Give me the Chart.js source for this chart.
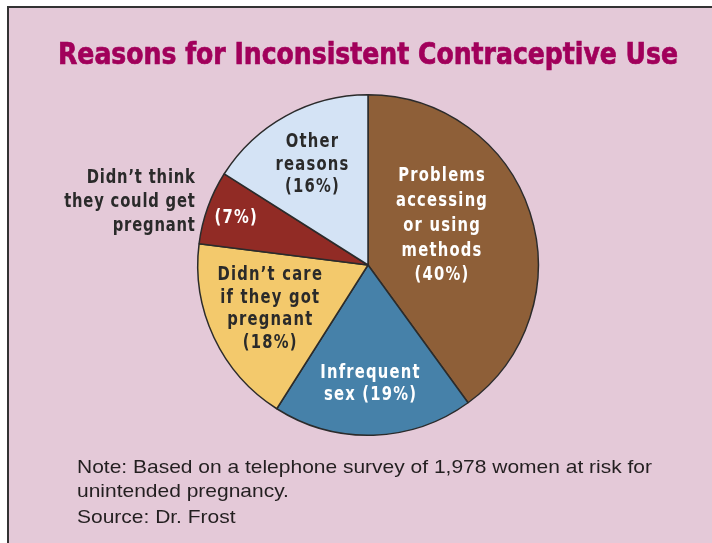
<!DOCTYPE html>
<html>
<head>
<meta charset="utf-8">
<script src="https://cdn.jsdelivr.net/npm/chart.js@4/dist/chart.umd.min.js"></script>
<style>
body{margin:0;background:#fff;width:712px;height:543px;overflow:hidden;position:relative;font-family:"Liberation Sans",Arial,sans-serif}
#frame{position:absolute;left:7px;top:6px;width:720px;height:560px;background:#e4c9d8;border:2px solid #333}
#chartBox{position:absolute;left:0;top:0;width:712px;height:543px}
.txt{position:absolute;white-space:nowrap;transform-origin:0 0}
#title{left:58px;top:38px;font:bold 31px/31px "DejaVu Sans Condensed",sans-serif;color:#a1005b;-webkit-text-stroke:0.7px #a1005b}
.note{left:77px;font:19px/19px "Liberation Sans",sans-serif;color:#231f20}
</style>
</head>
<body>
<div id="frame"></div>
<div id="chartBox"><canvas id="pieChart"></canvas></div>
<div class="txt" id="title" data-w="620">Reasons for Inconsistent Contraceptive Use</div>
<div class="txt note" style="top:457px" data-w="575">Note: Based on a telephone survey of 1,978 women at risk for</div>
<div class="txt note" style="top:481px">unintended pregnancy.</div>
<div class="txt note" style="top:507px">Source: Dr. Frost</div>

<script>
// data
var categories = ['Problems accessing or using methods', 'Infrequent sex', 'Didn\u2019t care if they got pregnant', 'Didn\u2019t think they could get pregnant', 'Other reasons'];
var percents = [40, 19, 18, 7, 16];
var insideLines = [
  ['Problems', 'accessing', 'or using', 'methods', '(40%)'],
  ['Infrequent', 'sex (19%)'],
  ['Didn\u2019t care', 'if they got', 'pregnant', '(18%)'],
  ['(7%)'],
  ['Other', 'reasons', '(16%)']
];
var outsideLines = [null, null, null, ['Didn\u2019t think', 'they could get', 'pregnant'], null];

// styles
var sliceColors = ['#8e5f38', '#4681a9', '#f3c96c', '#912b25', '#d4e3f5'];
var labelStyle = [
  {dx: 0.435, dy: -0.232, lh: 24.8, color: '#fff'},
  {dx: 0.015, dy: 0.70, lh: 22, color: '#fff'},
  {dx: -0.574, dy: 0.256, lh: 22.5, color: '#2a2a2a'},
  {dx: -0.774, dy: -0.276, lh: 22, color: '#fff'},
  {dx: -0.326, dy: -0.591, lh: 22.5, color: '#2a2a2a'}
];
var outsideStyle = {dx: -1.012, dy: -0.371, lh: 24, color: '#2a2a2a', ls: '1px'};
var labelFont = 'bold 20px "DejaVu Sans Condensed", sans-serif';
var squeeze = 0.82;

// fit html text widths
document.querySelectorAll('[data-w]').forEach(function(el){
  var w = el.getBoundingClientRect().width;
  var s = (+el.dataset.w) / w;
  el.style.transform = 'scaleX(' + s + ')';
  if (el.classList.contains('note')) {
    document.querySelectorAll('.note').forEach(function(n){ n.style.transform = 'scaleX(' + s + ')'; });
  }
});

function drawLines(ctx, lines, x, y, st, align){
  ctx.save();
  ctx.translate(x, y);
  ctx.scale(squeeze, 1);
  ctx.font = labelFont;
  ctx.letterSpacing = st.ls || '1.5px';
  ctx.fillStyle = st.color;
  ctx.textAlign = align;
  ctx.textBaseline = 'middle';
  var n = lines.length;
  lines.forEach(function(t, k){
    ctx.fillText(t, 0, (k - (n - 1) / 2) * st.lh);
  });
  ctx.restore();
}

var sliceLabels = {
  id: 'sliceLabels',
  afterDatasetsDraw: function(chart){
    var ctx = chart.ctx;
    var meta = chart.getDatasetMeta(0);
    meta.data.forEach(function(arc, i){
      var r = arc.outerRadius;
      var st = labelStyle[i];
      drawLines(ctx, insideLines[i], arc.x + st.dx * r, arc.y + st.dy * r, st, 'center');
      if (outsideLines[i]) {
        drawLines(ctx, outsideLines[i], arc.x + outsideStyle.dx * r, arc.y + outsideStyle.dy * r, outsideStyle, 'right');
      }
    });
  }
};

new Chart('pieChart', {
  type: 'pie',
  data: {
    labels: categories,
    datasets: [{
      data: percents,
      backgroundColor: sliceColors,
      borderColor: '#2b2b2b',
      borderWidth: 1.5
    }]
  },
  options: {
    responsive: true,
    maintainAspectRatio: false,
    animation: false,
    layout: {padding: {left: 197, right: 173, top: 94, bottom: 107}},
    plugins: {legend: {display: false}, tooltip: {enabled: false}, title: {display: false}}
  },
  plugins: [sliceLabels]
});
</script>
</body>
</html>
